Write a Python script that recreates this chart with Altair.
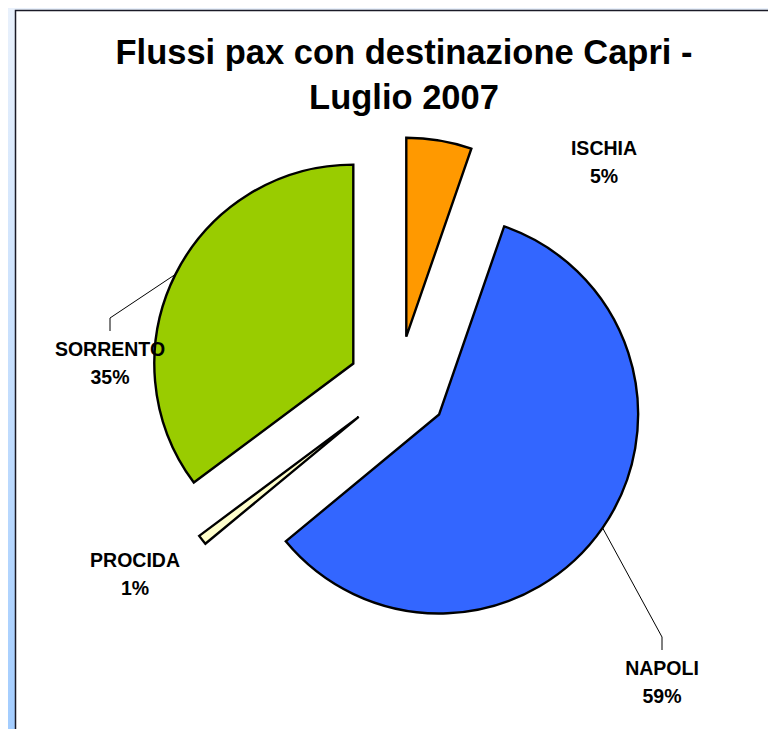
import altair as alt
import pandas as pd

# ---- data ----
categories = ["ISCHIA", "NAPOLI", "PROCIDA", "SORRENTO"]
values = [5.3, 58.7, 0.8, 35.2]
colors = ["#FF9900", "#3366FF", "#FFFFCC", "#99CC00"]

# ---- layout (styling / label placement, not data) ----
W = 760
H_TOTAL = 721
PAD_TOP = 130
H = H_TOTAL - PAD_TOP
CX, CY = 390, 248      # pie centre (plot coords)
EXPLODE = 50           # slice explosion distance
R = 199                # pie radius
label_dx = [206, 264, -263, -288]
label_dy = [-231, 289, 181, -30]
leader = [False, True, False, True]

df = pd.DataFrame({
    "category": categories,
    "value": values,
    "order": list(range(len(categories))),
    "ldx": label_dx,
    "ldy": label_dy,
    "leader": leader,
})

base = (
    alt.Chart(df)
    .transform_joinaggregate(total="sum(value)")
    .transform_window(cum="sum(value)", sort=[alt.SortField("order")], frame=[None, 0])
    .transform_calculate(t0="(datum.cum - datum.value) / datum.total * 2 * PI")
    .transform_calculate(t1="datum.cum / datum.total * 2 * PI")
    .transform_calculate(mid="(datum.t0 + datum.t1) / 2")
    .transform_calculate(cx=f"{CX} + {EXPLODE} * sin(datum.mid)")
    .transform_calculate(cy=f"{CY} - {EXPLODE} * cos(datum.mid)")
    .transform_calculate(ex=f"datum.cx + {R} * sin(datum.mid)")
    .transform_calculate(ey=f"datum.cy - {R} * cos(datum.mid)")
    .transform_calculate(lx=f"{CX} + datum.ldx")
    .transform_calculate(ly=f"{CY} + datum.ldy")
    .transform_calculate(label="datum.category + '\\n' + format(datum.value / datum.total, '.0%')")
)

one = pd.DataFrame({"k": [0]})
bg = alt.Chart(one).mark_rect(
    color=alt.LinearGradient(
        gradient="linear",
        stops=[alt.GradientStop(color="#E9F1FC", offset=0),
               alt.GradientStop(color="#A3CDFF", offset=1)],
        x1=0, x2=0, y1=0, y2=1,
    )
).encode(x=alt.value(0), x2=alt.value(W), y=alt.value(-PAD_TOP), y2=alt.value(H))

box = alt.Chart(one).mark_rect(fill="white", stroke="#1A1A26", strokeWidth=1.5).encode(
    x=alt.value(7.5), x2=alt.value(W + 20), y=alt.value(2.5 - PAD_TOP), y2=alt.value(H + 20)
)

arcs = base.mark_arc(outerRadius=R, stroke="black", strokeWidth=2.4).encode(
    x=alt.X("cx:Q", scale=None, axis=None),
    y=alt.Y("cy:Q", scale=None, axis=None),
    theta=alt.Theta("t0:Q", scale=None),
    theta2="t1:Q",
    color=alt.Color("category:N", scale=alt.Scale(domain=categories, range=colors), legend=None),
)

lead = base.transform_filter("datum.leader").transform_calculate(
    ys="datum.ly - 25"
).transform_calculate(ye="datum.ly - 38")

rule_v = lead.mark_rule(color="black", strokeWidth=1).encode(
    x=alt.X("lx:Q", scale=None, axis=None),
    y=alt.Y("ys:Q", scale=None, axis=None),
    y2="ye:Q",
)
rule_d = lead.mark_rule(color="black", strokeWidth=1).encode(
    x=alt.X("lx:Q", scale=None, axis=None),
    y=alt.Y("ye:Q", scale=None, axis=None),
    x2="ex:Q",
    y2="ey:Q",
)

labels = base.mark_text(
    font="Liberation Sans", fontWeight="bold", fontSize=19.5,
    lineBreak="\n", lineHeight=28, align="center", baseline="alphabetic", color="black",
).encode(
    x=alt.X("lx:Q", scale=None, axis=None),
    y=alt.Y("ly:Q", scale=None, axis=None),
    text="label:N",
)

chart = alt.layer(bg, box, arcs, rule_v, rule_d, labels).properties(
    width=W,
    height=H,
    autosize="none",
    padding={"left": 0, "top": PAD_TOP, "right": 0, "bottom": 0},
    title=alt.TitleParams(
        text=["Flussi pax con destinazione Capri -", "Luglio 2007"],
        font="Liberation Sans", fontSize=34.5, fontWeight="bold", color="black",
        anchor="middle", offset=-108, dx=16, lineHeight=45,
    ),
).configure_view(stroke=None)

chart.save("out.html", embed_options={"renderer": "svg", "actions": False})
